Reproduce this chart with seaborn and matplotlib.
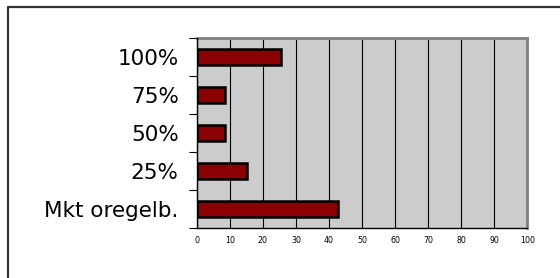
import matplotlib
matplotlib.use("Agg")
import matplotlib.pyplot as plt
import seaborn as sns
import pandas as pd
from matplotlib.lines import Line2D
from matplotlib.ticker import FixedLocator

categories = ["100%", "75%", "50%", "25%", "Mkt oregelb."]
values = [25.5, 8.5, 8.5, 15.1, 42.7]
xticks = [0, 10, 20, 30, 40, 50, 60, 70, 80, 90, 100]

df = pd.DataFrame({"cat": categories, "val": values})

sns.set_style("white")
plt.rcParams["font.family"] = ["DejaVu Sans"]

fig = plt.figure(figsize=(5.6, 2.78), dpi=100)
ax = fig.add_axes([0.3513, 0.1799, 0.5903, 0.6834])
ax.set_facecolor("#cccccc")

sns.barplot(data=df, x="val", y="cat", orient="h", color="#8b0000",
            edgecolor="black", linewidth=1.8, width=0.4, saturation=1,
            ax=ax, zorder=3)

ax.set_xlim(0, 100)
ax.set_ylim(4.5, -0.5)
ax.set_xticks(xticks)
ax.set_xticklabels([str(t) for t in xticks], fontsize=5.7)
ax.tick_params(axis="x", length=3, width=0.8, color="black", pad=3, direction="out",
               labelcolor="black")
ax.tick_params(axis="y", which="major", length=0, labelsize=15.5, pad=13, labelcolor="black")
ax.yaxis.set_minor_locator(FixedLocator([-0.5, 0.5, 1.5, 2.5, 3.5, 4.5]))
ax.tick_params(axis="y", which="minor", length=6, width=0.8, color="black", direction="out", left=True)
ax.set_xlabel("")
ax.set_ylabel("")

ax.grid(axis="x", color="black", linewidth=0.8, zorder=1)
ax.set_axisbelow(True)

for side in ["top", "right"]:
    ax.spines[side].set_color("#808080")
    ax.spines[side].set_linewidth(2)
for side in ["left", "bottom"]:
    ax.spines[side].set_color("black")
    ax.spines[side].set_linewidth(1)
    ax.spines[side].set_zorder(4)

fig.add_artist(Line2D([8 / 560, 8 / 560], [0, 1 - 7 / 278], transform=fig.transFigure,
                      color="#333333", linewidth=1.6))
fig.add_artist(Line2D([8 / 560, 1], [1 - 7 / 278, 1 - 7 / 278], transform=fig.transFigure,
                      color="#333333", linewidth=1.6))

fig.savefig("out.png", dpi=100)
